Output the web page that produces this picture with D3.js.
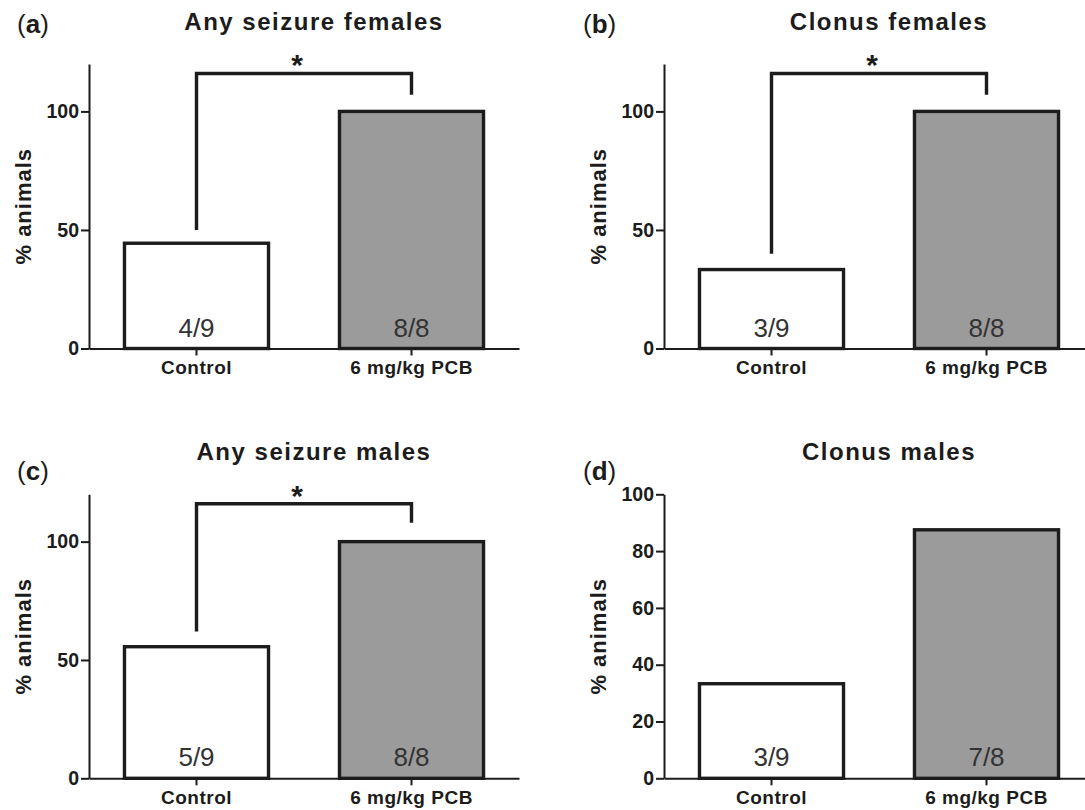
<!DOCTYPE html>
<html>
<head>
<meta charset="utf-8">
<script src="https://cdn.jsdelivr.net/npm/d3@7"></script>
<style>
  html, body { margin: 0; padding: 0; background: #fff; }
  svg { display: block; }
  text { font-family: "Liberation Sans", Arial, Helvetica, sans-serif; }
</style>
</head>
<body>
<svg id="chart" width="1085" height="810"></svg>
<script>
// ---- data ----
const categories = ["Control", "6 mg/kg PCB"];
const panelLetters = ["a", "b", "c", "d"];
const titles = ["Any seizure females", "Clonus females", "Any seizure males", "Clonus males"];
const controlValues = [44.4, 33.3, 55.6, 33.3];
const pcbValues = [100, 100, 100, 87.5];
const controlCounts = ["4/9", "3/9", "5/9", "3/9"];
const pcbCounts = ["8/8", "8/8", "8/8", "7/8"];
const yMax = [120, 120, 120, 100];
const yTicks = [[0, 50, 100], [0, 50, 100], [0, 50, 100], [0, 20, 40, 60, 80, 100]];
const bracketTop = [116, 116, 116, null];
const bracketLeftEnd = [50, 40, 62, null];
const bracketRightEnd = [107, 107, 108, null];
const sigLabels = ["*", "*", "*", ""];

// ---- layout ----
const svg = d3.select("#chart");
const ink = "#1c1c1c";
const colX = [89, 664];
const plotW = 430;
const rowY = [{bottom: 348.5, top: 64}, {bottom: 778.3, top: 494.3}];
const barFills = ["#ffffff", "#9b9b9b"];

panelLetters.forEach((letter, i) => {
  const col = i % 2, row = Math.floor(i / 2);
  const x0 = colX[col], x1 = colX[col] + plotW;
  const yb = rowY[row].bottom, yt = rowY[row].top;

  const x = d3.scaleBand().domain(categories).range([x0, x1])
    .paddingInner(0.33).paddingOuter(0.165);
  const y = d3.scaleLinear().domain([0, yMax[i]]).range([yb, yt]);
  const g = svg.append("g");

  const vals = [controlValues[i], pcbValues[i]];
  const counts = [controlCounts[i], pcbCounts[i]];

  // bars
  g.selectAll("rect.bar").data(categories).join("rect")
    .attr("class", "bar")
    .attr("x", d => x(d))
    .attr("width", x.bandwidth())
    .attr("y", (d, k) => y(vals[k]))
    .attr("height", (d, k) => y(0) - y(vals[k]))
    .attr("fill", (d, k) => barFills[k])
    .attr("stroke", ink)
    .attr("stroke-width", 3.4);

  // count labels
  g.selectAll("text.count").data(categories).join("text")
    .attr("class", "count")
    .attr("x", d => x(d) + x.bandwidth() / 2)
    .attr("y", y(0) - 12)
    .attr("text-anchor", "middle")
    .attr("font-size", 26)
    .attr("fill", "#333")
    .text((d, k) => counts[k]);

  // y axis
  const ya = g.append("g")
    .attr("transform", `translate(${x0},0)`)
    .call(d3.axisLeft(y).tickValues(yTicks[i]).tickSize(8).tickSizeOuter(0).tickPadding(2));
  ya.select(".domain").attr("stroke", ink).attr("stroke-width", 2);
  ya.selectAll(".tick line").attr("stroke", ink).attr("stroke-width", 2);
  ya.selectAll(".tick text")
    .attr("font-size", 19.5).attr("font-weight", "bold").attr("fill", ink)
    .attr("font-family", "'Liberation Sans', Arial, sans-serif");

  // x axis
  const xa = g.append("g")
    .attr("transform", `translate(0,${yb})`)
    .call(d3.axisBottom(x).tickSize(7).tickSizeOuter(0).tickPadding(5));
  xa.select(".domain").attr("stroke", ink).attr("stroke-width", 2);
  xa.selectAll(".tick line").attr("stroke", ink).attr("stroke-width", 2);
  xa.selectAll(".tick text")
    .attr("font-size", 19).attr("font-weight", "bold").attr("fill", ink)
    .attr("letter-spacing", 0.5)
    .attr("font-family", "'Liberation Sans', Arial, sans-serif");

  // y label
  g.append("text")
    .attr("transform", `translate(${x0 - 58},${(yb + yt) / 2}) rotate(-90)`)
    .attr("text-anchor", "middle")
    .attr("font-size", 22).attr("font-weight", "bold").attr("fill", ink)
    .attr("letter-spacing", 1)
    .text("% animals");

  // title
  g.append("text")
    .attr("x", (x0 + x1) / 2 + 10)
    .attr("y", row === 0 ? 30 : 460)
    .attr("text-anchor", "middle")
    .attr("font-size", 24).attr("font-weight", "bold").attr("fill", ink)
    .attr("letter-spacing", 1.5)
    .text(titles[i]);

  // panel letter
  const pl = g.append("text")
    .attr("x", col === 0 ? 17 : 583)
    .attr("y", row === 0 ? 33 : 480)
    .attr("font-size", 26).attr("fill", ink);
  pl.append("tspan").text("(");
  pl.append("tspan").attr("font-weight", "bold").text(letter);
  pl.append("tspan").text(")");

  // significance bracket
  if (bracketTop[i] !== null) {
    const cx0 = x(categories[0]) + x.bandwidth() / 2;
    const cx1 = x(categories[1]) + x.bandwidth() / 2;
    const path = d3.path();
    path.moveTo(cx0, y(bracketLeftEnd[i]));
    path.lineTo(cx0, y(bracketTop[i]));
    path.lineTo(cx1, y(bracketTop[i]));
    path.lineTo(cx1, y(bracketRightEnd[i]));
    g.append("path").attr("d", path.toString())
      .attr("fill", "none").attr("stroke", ink).attr("stroke-width", 3.4)
      .attr("stroke-linejoin", "miter");
    g.append("text")
      .attr("x", (cx0 + cx1) / 2 - 7)
      .attr("y", y(bracketTop[i]) + 2)
      .attr("text-anchor", "middle")
      .attr("font-size", 30).attr("font-weight", "bold").attr("fill", ink)
      .text(sigLabels[i]);
  }
});
</script>
</body>
</html>
